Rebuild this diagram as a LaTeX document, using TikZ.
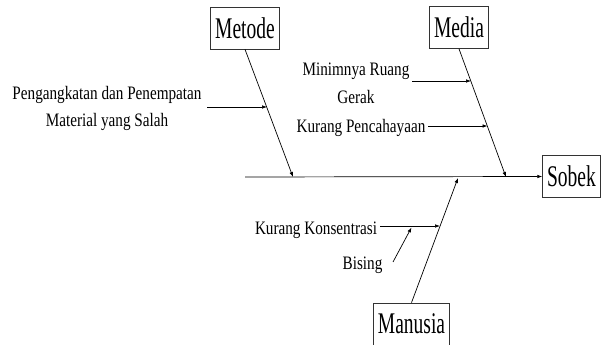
\documentclass[tikz,border=0pt]{standalone}
\usepackage{fontspec}
\usepackage{graphicx}
\setmainfont{Liberation Serif}
\usetikzlibrary{arrows.meta}
\newcommand\boxtxt[1]{\scalebox{0.65}[1]{#1}}
\newcommand\labtxt[1]{\scalebox{0.8}[1]{#1}}
\tikzset{
  catbox/.style={draw=black!80, line width=0.7pt, fill=white, inner xsep=4.5pt, inner ysep=0pt,
    minimum height=42pt, font=\rmfamily\fontsize{30}{32}\selectfont},
  lab/.style={inner sep=0pt, align=center, anchor=base, font=\rmfamily\fontsize{19}{27.5}\selectfont},
  bone/.style={line width=0.7pt, -{Latex[length=5pt,width=3.6pt]}},
}
\begin{document}
\begin{tikzpicture}[x=1pt,y=-1pt]
\useasboundingbox (0,0) rectangle (606,345);
% category boxes
\node[catbox] (metode) at (245,28) {\boxtxt{Metode}};
\node[catbox] (media) at (459,27.5) {\boxtxt{Media}};
\node[catbox] (sobek) at (571.5,176.5) {\boxtxt{Sobek}};
\node[catbox] (manusia) at (411.5,324) {\boxtxt{Manusia}};
% spine
\coordinate (tail) at (245,177);
\draw[bone] (tail) -- (sobek.west);
% main bones
\coordinate (mE) at (293,177);
\coordinate (dE) at (506,177);
\coordinate (uE) at (458,178);
\draw[bone] (metode.south) -- (mE);
\draw[bone] (media.south) -- (dE);
\draw[bone] (manusia.north) -- (uE);
% sub causes
\node[lab] (peng) at (107,127) {\labtxt{Pengangkatan dan Penempatan}\\\labtxt{Material yang Salah}};
\node[lab] (minim) at (356,103) {\labtxt{Minimnya Ruang}\\\labtxt{Gerak}};
\node[lab] (kp) at (361,132) {\labtxt{Kurang Pencahayaan}};
\node[lab] (kk) at (316,234) {\labtxt{Kurang Konsentrasi}};
\node[lab] (bising) at (362.5,269) {\labtxt{Bising}};
\coordinate (pS) at (207,107);
\coordinate (pE) at (267,107);
\coordinate (miS) at (412,81);
\coordinate (miE) at (471,81);
\coordinate (kpS) at (428,126);
\coordinate (kpE) at (487.5,126);
\coordinate (kkS) at (380,226);
\coordinate (kkE) at (440,226);
\coordinate (bS) at (393,262);
\coordinate (bE) at (411.5,227.5);
\draw[bone] (pS) -- (pE);
\draw[bone] (miS) -- (miE);
\draw[bone] (kpS) -- (kpE);
\draw[bone] (kkS) -- (kkE);
\draw[bone] (bS) -- (bE);
\end{tikzpicture}
\end{document}
